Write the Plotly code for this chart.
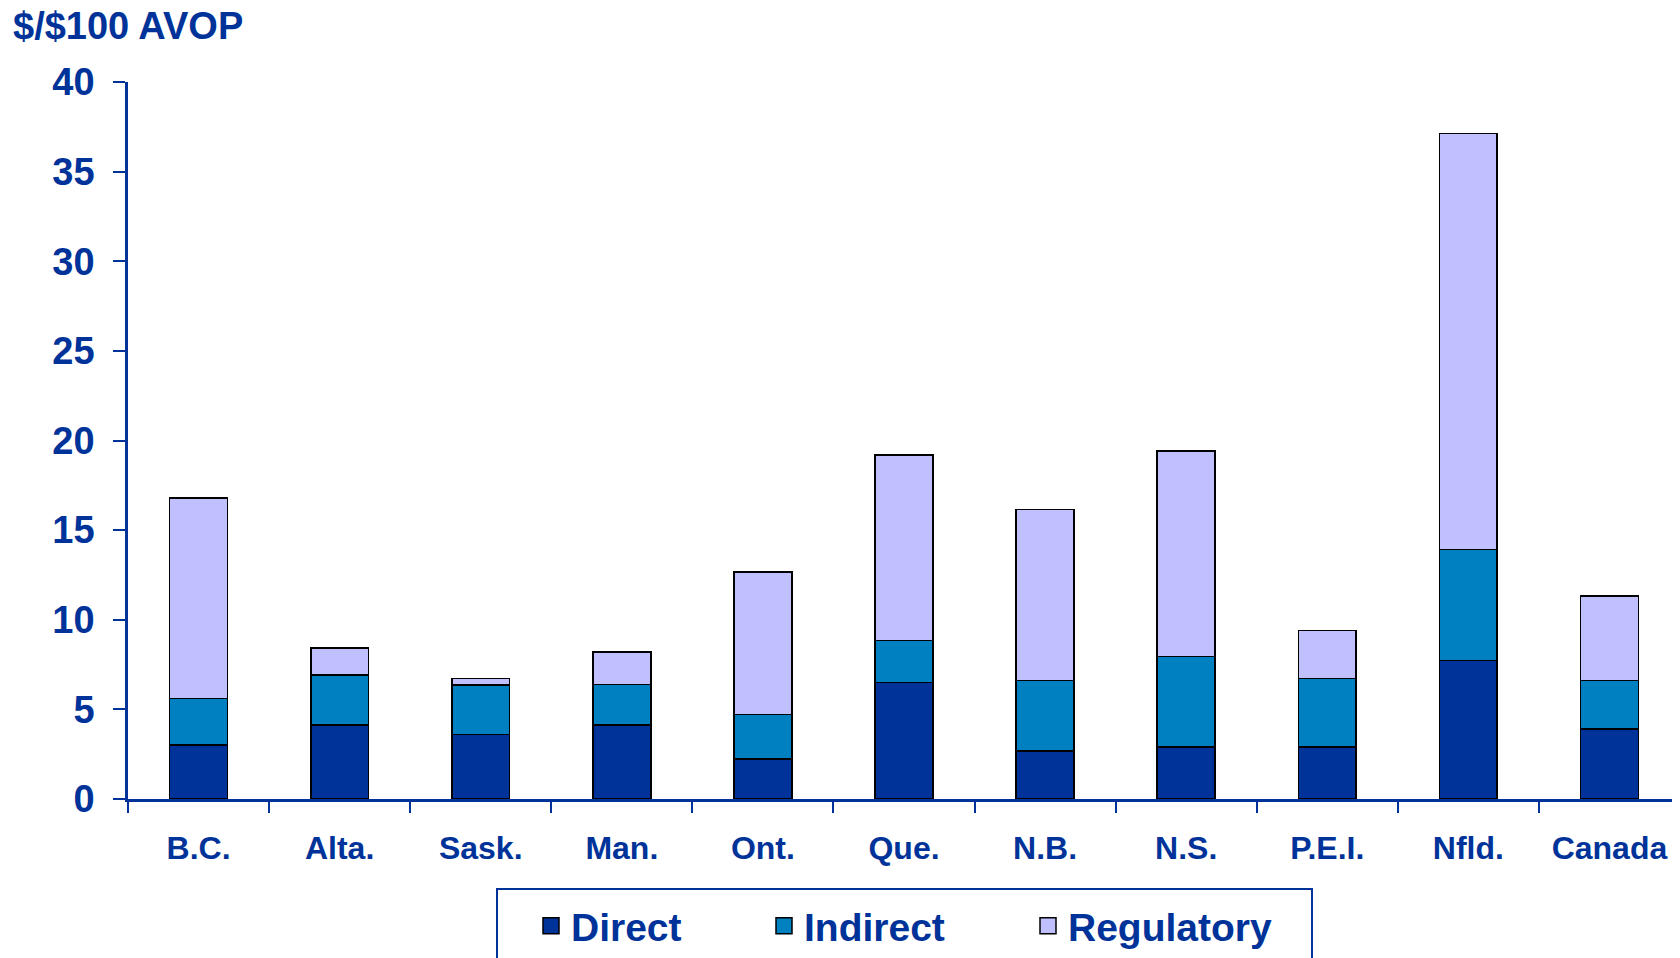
import plotly.graph_objects as go

categories = ["B.C.", "Alta.", "Sask.", "Man.", "Ont.", "Que.", "N.B.", "N.S.", "P.E.I.", "Nfld.", "Canada"]
direct = [3.0, 4.13, 3.6, 4.13, 2.23, 6.5, 2.68, 2.9, 2.9, 7.73, 3.91]
indirect = [2.6, 2.8, 2.77, 2.26, 2.48, 2.35, 3.93, 5.06, 3.83, 6.18, 2.7]
regulatory = [11.2, 1.49, 0.35, 1.82, 7.95, 10.35, 9.54, 11.45, 2.68, 23.22, 4.73]
series_names = ["Direct", "Indirect", "Regulatory"]
y_ticks = [0, 5, 10, 15, 20, 25, 30, 35, 40]

colors = ["#003399", "#0080C0", "#C0C0FF"]
legend_widths = [155, 186, 238]
navy = "#003399"
FONT = "Liberation Sans, Arial, sans-serif"

fig = go.Figure()
for name, vals, col in zip(series_names, [direct, indirect, regulatory], colors):
    fig.add_trace(go.Bar(
        x=categories, y=vals, name=name, width=0.41,
        marker=dict(color=col, line=dict(color="black", width=1.6)),
        showlegend=False,
    ))
# legend proxies (bigger square symbols than bar legend allows)
for name, col, lw in zip(series_names, colors, legend_widths):
    fig.add_trace(go.Scatter(
        x=[None], y=[None], mode="markers", name=name, legendwidth=lw,
        marker=dict(symbol="square", size=16, color=col, line=dict(color="black", width=1.5)),
    ))

plot_left = 120
plot_w = 1672 - plot_left

fig.update_layout(
    barmode="stack",
    width=1680, height=958,
    margin=dict(l=plot_left, r=8, t=74, b=167, autoexpand=False),
    paper_bgcolor="white", plot_bgcolor="white",
    font=dict(family=FONT, color=navy, weight="bold"),
    title=dict(text="$/$100 AVOP", x=5 / 1680, xanchor="left", xref="container",
               y=1 - 18 / 958, yanchor="middle", yref="container",
               font=dict(size=38, family=FONT, color=navy, weight="bold")),
    xaxis=dict(
        type="category", range=[-0.5, 10.5], showline=True, linecolor=navy, linewidth=2.5,
        ticks="outside", tickson="boundaries", ticklen=11, tickwidth=2, tickcolor=navy,
        tickfont=dict(size=32, family=FONT, color=navy, weight="bold"),
        ticklabelstandoff=19, showgrid=False, zeroline=False,
    ),
    yaxis=dict(
        range=[0, 40], tickvals=y_ticks, showline=True, linecolor=navy, linewidth=2.5,
        ticks="outside", ticklen=12, tickwidth=2, tickcolor=navy,
        tickfont=dict(size=38, family=FONT, color=navy, weight="bold"),
        ticklabelstandoff=11, showgrid=False, zeroline=False,
    ),
    legend=dict(
        orientation="h", traceorder="normal",
        x=(488 - plot_left) / plot_w, xanchor="left", y=-(880 - 791) / 717, yanchor="top",
        bgcolor="white", bordercolor=navy, borderwidth=2,
        font=dict(size=39, family=FONT, color=navy, weight="bold"),
        entrywidthmode="pixels", itemwidth=30, indentation=33,
        title=dict(text="\u00a0", side="top", font=dict(size=3)),
    ),
)

fig.write_html("out.html")
